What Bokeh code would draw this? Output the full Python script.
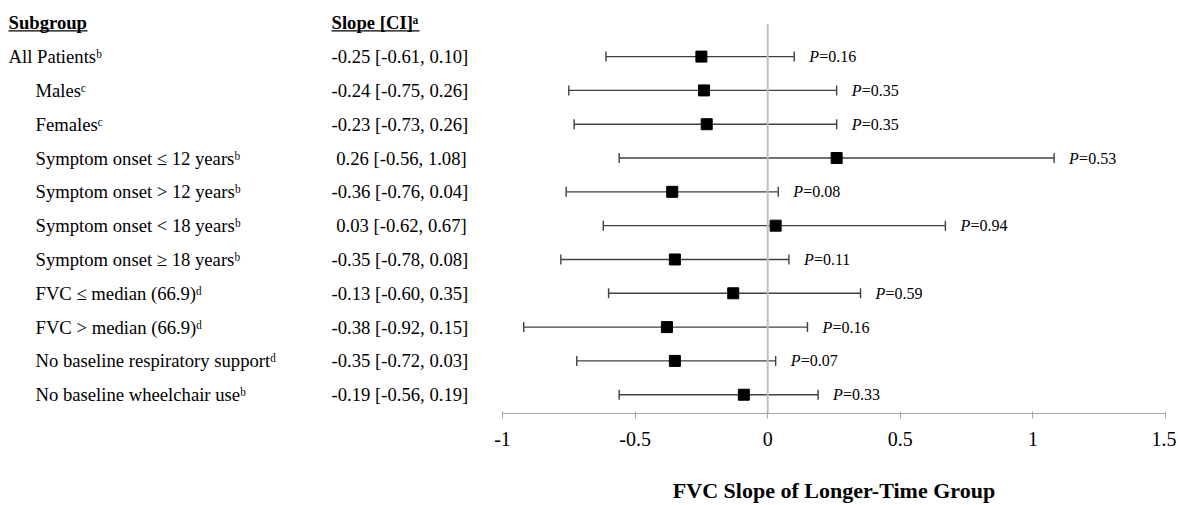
from bokeh.plotting import figure
from bokeh.models import Range1d, ColumnDataSource, Whisker, TeeHead, FixedTicker
from bokeh.layouts import row
from bokeh.embed import file_html
from bokeh.resources import INLINE
from bokeh.core.properties import value

# ---------------- data ----------------
subgroups = [
    "All Patients",
    "Males",
    "Females",
    "Symptom onset \u2264 12 years",
    "Symptom onset > 12 years",
    "Symptom onset < 18 years",
    "Symptom onset \u2265 18 years",
    "FVC \u2264 median (66.9)",
    "FVC > median (66.9)",
    "No baseline respiratory support",
    "No baseline wheelchair use",
]
indent_level = [0, 1, 1, 1, 1, 1, 1, 1, 1, 1, 1]
footnotes = ["b", "c", "c", "b", "b", "b", "b", "d", "d", "d", "b"]
slope = [-0.25, -0.24, -0.23, 0.26, -0.36, 0.03, -0.35, -0.13, -0.38, -0.35, -0.19]
ci_low = [-0.61, -0.75, -0.73, -0.56, -0.76, -0.62, -0.78, -0.60, -0.92, -0.72, -0.56]
ci_high = [0.10, 0.26, 0.26, 1.08, 0.04, 0.67, 0.08, 0.35, 0.15, 0.03, 0.19]
# marker positions as drawn in the picture
marker_x = [-0.25, -0.24, -0.23, 0.26, -0.36, 0.03, -0.35, -0.13, -0.38, -0.35, -0.09]
p_values = [0.16, 0.35, 0.35, 0.53, 0.08, 0.94, 0.11, 0.59, 0.16, 0.07, 0.33]
x_ticks = [-1, -0.5, 0, 0.5, 1, 1.5]
x_tick_labels = ["-1", "-0.5", "0", "0.5", "1", "1.5"]
header_labels = ["Subgroup", "Slope [CI]\u1d43"]
x_title = "FVC Slope of Longer-Time Group"

SUP = {"a": "\u1d43", "b": "\u1d47", "c": "\u1d9c", "d": "\u1d48"}
FONT = "Liberation Serif"

n = len(subgroups)
ys = list(range(n))
label_text = [s + SUP[f] for s, f in zip(subgroups, footnotes)]
slope_text = [("\u00a0" if s >= 0 else "") + f"{s:.2f} [{l:.2f}, {h:.2f}]"
              for s, l, h in zip(slope, ci_low, ci_high)]

y_range = Range1d(10.555, -1.4227)
H = 505
TOP = 8
BOTTOM = 87

# ---------------- left text panel ----------------
left = figure(width=492, height=H, x_range=Range1d(-8, 484), y_range=y_range,
              output_backend="svg", toolbar_location=None,
              x_axis_location=None, y_axis_location=None,
              min_border_left=0, min_border_right=0, min_border_top=TOP,
              min_border_bottom=BOTTOM, outline_line_color=None)
left.grid.visible = False

lsrc = ColumnDataSource(dict(
    x=[27 * i for i in indent_level], y=ys, lab=label_text,
    sx=[323] * n, st=slope_text))
left.text(x="x", y="y", text="lab", source=lsrc, text_font=value(FONT),
          text_font_size="14pt", text_baseline="middle", text_align="left",
          text_color="black")
left.text(x="sx", y="y", text="st", source=lsrc, text_font=value(FONT),
          text_font_size="14pt", text_baseline="middle", text_align="left",
          text_color="black")

hsrc = ColumnDataSource(dict(x=[0, 323], y=[-1.0, -1.0], t=header_labels,
                             x1=[79, 411], uy=[-0.76, -0.76]))
left.text(x="x", y="y", text="t", source=hsrc, text_font=value(FONT),
          text_font_size="14pt", text_font_style="bold", text_baseline="middle",
          text_align="left", text_color="black")
left.segment(x0="x", x1="x1", y0="uy", y1="uy", source=hsrc,
             line_color="black", line_width=1.2)

# ---------------- right forest panel ----------------
p = figure(width=684, height=H, x_range=Range1d(-1, 1.5), y_range=y_range,
           output_backend="svg", toolbar_location=None, y_axis_location=None,
           min_border_left=10, min_border_right=11, min_border_top=TOP,
           min_border_bottom=BOTTOM, outline_line_color=None)
p.grid.visible = False

p.segment(x0=[0], x1=[0], y0=[-0.965], y1=[10.555], line_color="#c0c0c0",
          line_width=2)

src = ColumnDataSource(dict(
    y=ys, lo=ci_low, hi=ci_high, est=marker_x,
    psym=["P"] * n, pstr=[f"={v:.2f}" for v in p_values]))

bar_col = "#404040"
w = Whisker(source=src, base="y", lower="lo", upper="hi", dimension="width",
            line_color=bar_col, line_width=1.4,
            lower_head=TeeHead(size=10, line_color=bar_col, line_width=1.4),
            upper_head=TeeHead(size=10, line_color=bar_col, line_width=1.4))
p.add_layout(w)

p.scatter(x="est", y="y", source=src, marker="square", size=11,
          fill_color="black", line_color="black")

p.text(x="hi", y="y", text="psym", source=src, x_offset=15,
       text_font=value(FONT), text_font_size="12pt", text_font_style="italic",
       text_baseline="middle", text_align="left", text_color="black")
p.text(x="hi", y="y", text="pstr", source=src, x_offset=25,
       text_font=value(FONT), text_font_size="12pt",
       text_baseline="middle", text_align="left", text_color="black")

ax = p.xaxis[0]
ax.ticker = FixedTicker(ticks=x_ticks)
ax.major_label_overrides = {t: l for t, l in zip(x_ticks, x_tick_labels)}
ax.major_label_text_font = FONT
ax.major_label_text_font_size = "15pt"
ax.major_label_text_color = "black"
ax.major_label_standoff = 13
ax.axis_line_color = "#a6a6a6"
ax.axis_line_width = 1.2
ax.major_tick_line_color = "#a6a6a6"
ax.major_tick_in = 2
ax.major_tick_out = 5
ax.minor_tick_line_color = None
ax.axis_label = x_title
ax.axis_label_text_font = FONT
ax.axis_label_text_font_style = "bold"
ax.axis_label_text_font_size = "22px"
ax.axis_label_text_color = "black"
ax.axis_label_standoff = 29

layout = row(left, p)
open("out.html", "w").write(file_html(layout, INLINE))
